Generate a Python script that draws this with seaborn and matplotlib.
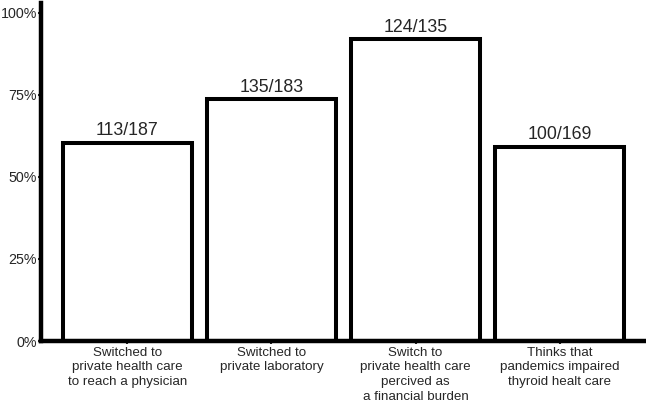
import matplotlib
matplotlib.use('Agg')
import matplotlib.pyplot as plt
import seaborn as sns
import pandas as pd

categories = ['Switched to\nprivate health care\nto reach a physician',
              'Switched to\nprivate laboratory',
              'Switch to\nprivate health care\npercived as\na financial burden',
              'Thinks that\npandemics impaired\nthyroid healt care']
yes_counts = [113, 135, 124, 100]
totals = [187, 183, 135, 169]

data = pd.DataFrame({'cat': categories, 'n': yes_counts, 'total': totals})
data['pct'] = data['n'] / data['total'] * 100

sns.set_style('white')
plt.rcParams['font.family'] = ['Liberation Sans', 'DejaVu Sans']

fig = plt.figure(figsize=[6.46, 4.08], dpi=100)
ax = fig.add_axes([0.0635, 0.164, 0.9365, 0.829])
sns.barplot(data=data, x='cat', y='pct', ax=ax, color='white', edgecolor='black',
            linewidth=2.9, width=0.9, saturation=1)
for i, row in data.iterrows():
    ax.text(i, row['pct'] + 1.0, '%d/%d' % (row['n'], row['total']),
            ha='center', va='bottom', fontsize=12.8)

ax.set_xlim(-0.6, 3.6)
ax.set_ylim(0, 103)
ax.set_yticks([0, 25, 50, 75, 100])
ax.set_yticklabels(['0%', '25%', '50%', '75%', '100%'], fontsize=10.3)
ax.tick_params(axis='x', labelsize=9.6, length=2, width=1.5, pad=2, bottom=True)
for lab in ax.get_xticklabels():
    lab.set_linespacing(1.3)
ax.tick_params(axis='y', length=2, width=1.5, pad=1, left=True)
ax.set_xlabel('')
ax.set_ylabel('')
sns.despine(ax=ax)
for s in ['left', 'bottom']:
    ax.spines[s].set_linewidth(3.2)
    ax.spines[s].set_color('black')

plt.savefig('out.png', dpi=100)
